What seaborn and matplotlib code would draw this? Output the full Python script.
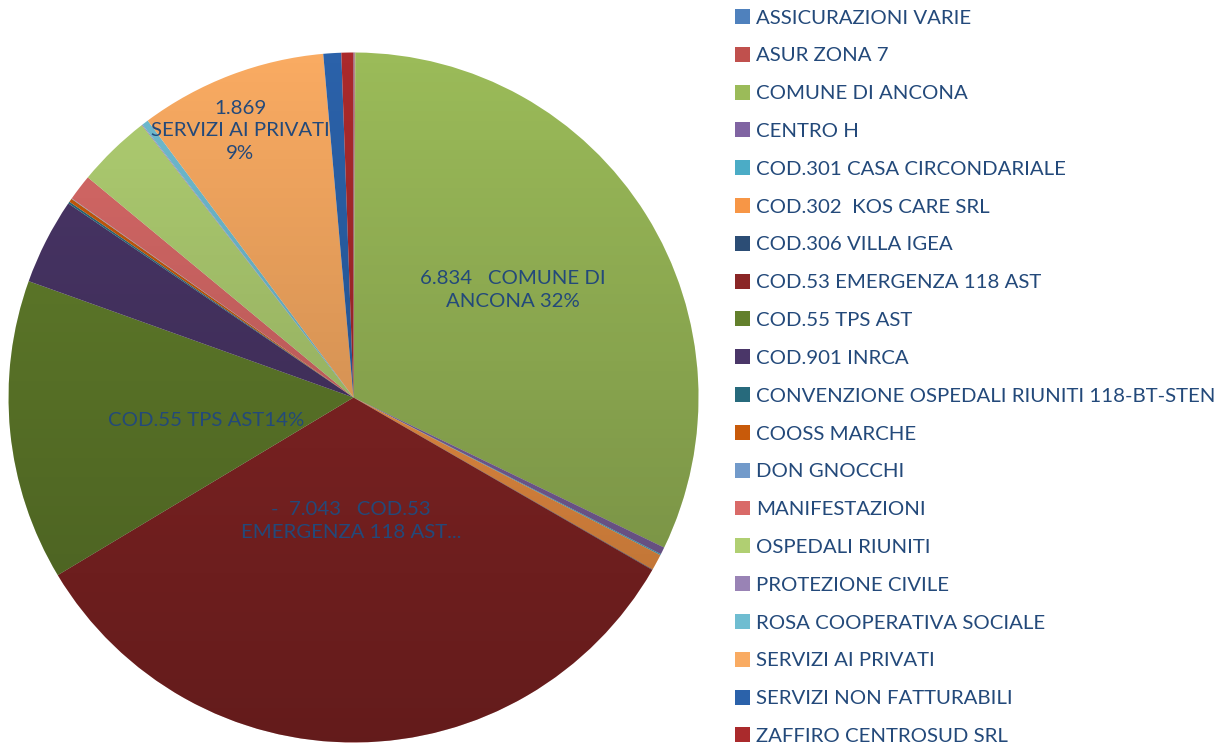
import numpy as np
import matplotlib
matplotlib.use("Agg")
import matplotlib.pyplot as plt
import matplotlib.patches as mpatches
import seaborn as sns

# valori (ordine di disegno, in senso orario dalle ore 12)
categorie = [
    "ASSICURAZIONI VARIE", "ASUR ZONA 7", "COMUNE DI ANCONA", "CENTRO H",
    "COD.301 CASA CIRCONDARIALE", "COD.302  KOS CARE SRL", "COD.306 VILLA IGEA",
    "COD.53 EMERGENZA 118 AST", "COD.55 TPS AST", "COD.901 INRCA",
    "CONVENZIONE OSPEDALI RIUNITI 118-BT-STEN", "COOSS MARCHE", "DON GNOCCHI",
    "MANIFESTAZIONI", "OSPEDALI RIUNITI", "PROTEZIONE CIVILE",
    "ROSA COOPERATIVA SOCIALE", "SERVIZI AI PRIVATI", "SERVIZI NON FATTURABILI",
    "ZAFFIRO CENTROSUD SRL",
]
valori = [10, 8, 6834, 72, 12, 160, 5, 7043, 3000, 860,
          20, 35, 5, 260, 740, 8, 65, 1869, 178, 120]
colori = [
    "#4F81BD", "#C0504D", "#9BBB59", "#8064A2", "#4BACC6", "#F79646",
    "#2C4D75", "#8A2626", "#63802C", "#4A3668", "#276A7C", "#C85A0A",
    "#729ACA", "#D96A68", "#B0CF72", "#9983B5", "#6FBDD1", "#F9AB62",
    "#2B62AA", "#AA2A2C",
]

blu_testo = "#23497A"

sns.set_theme(style="white")
plt.rcParams["font.family"] = ["Lato", "DejaVu Sans"]

fig = plt.figure(figsize=(12.22, 7.54), dpi=100)
ax = fig.add_axes([0, 0, 1, 1])

cx, cy, r = 353.5, 754 - 397.5, 345
wedges, _ = ax.pie(valori, colors=colori, startangle=90, counterclock=False,
                   radius=r, center=(cx, cy),
                   wedgeprops=dict(linewidth=0))
ax.set_xlim(0, 1222)
ax.set_ylim(0, 754)
ax.set_aspect("equal")
ax.axis("off")

# sfumatura verticale come in Excel
grad = np.linspace(0.0, 0.28, 256)[:, None]
ombra = np.zeros((256, 1, 4))
ombra[..., 3] = grad
img = ax.imshow(ombra, extent=(cx - r, cx + r, cy - r, cy + r), origin="upper",
                aspect="auto", zorder=3, interpolation="bilinear")
cerchio = mpatches.Circle((cx, cy), r, transform=ax.transData)
img.set_clip_path(cerchio)
ax.set_xlim(0, 1222)
ax.set_ylim(0, 754)

totale = sum(valori)


def fmt(v):
    return f"{v:,}".replace(",", ".")


def perc(v):
    return f"{round(v / totale * 100)}%"


fs = 14.7
etichette = [
    (f"{fmt(valori[2])}   COMUNE DI\nANCONA {perc(valori[2])}", 513, 290),
    (f"{fmt(valori[17])}\nSERVIZI AI PRIVATI\n{perc(valori[17])}", 240, 131),
    (f"COD.55 TPS AST{perc(valori[8])}", 206, 421),
    (f"-  {fmt(valori[7])}   COD.53\nEMERGENZA 118 AST...", 351, 521),
]
for testo, x, y in etichette:
    ax.text(x, 754 - y, testo, ha="center", va="center", fontsize=fs,
            color=blu_testo, linespacing=1.38, zorder=5)

fig.legend(wedges, categorie, loc="upper left", bbox_to_anchor=(735 / 1222, 1 - 9 / 754),
           frameon=False, fontsize=fs, labelcolor=blu_testo,
           handlelength=0.75, handleheight=0.75, handletextpad=0.3,
           labelspacing=0.99, borderaxespad=0, borderpad=0)

fig.savefig("out.png", dpi=100)
